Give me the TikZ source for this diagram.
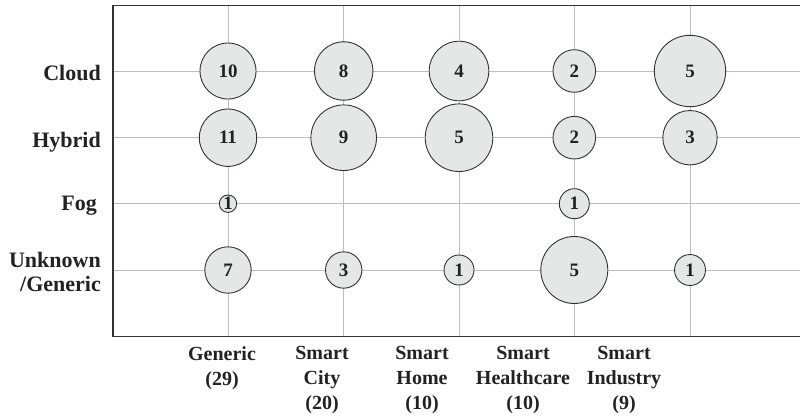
\documentclass[tikz,border=0pt]{standalone}
\usepackage{fontspec}
\setmainfont{Liberation Serif}
\definecolor{bubblefill}{HTML}{E5E6E6}
\definecolor{bubbleline}{HTML}{333333}
\definecolor{gridgray}{HTML}{BDBDBD}
\definecolor{inkdark}{HTML}{222222}
\begin{document}
\begin{tikzpicture}[x=1pt,y=-1pt,
  gridline/.style={draw=gridgray,line width=1pt},
  frameline/.style={draw=bubbleline,line width=1.4pt},
  bubble/.style={circle,draw=bubbleline,fill=bubblefill,line width=0.9pt,
    inner sep=0pt,minimum size=#1,text=inkdark,
    font=\fontsize{19}{21}\selectfont\bfseries},
  rowlabel/.style={anchor=base east,inner sep=0pt,text=inkdark,
    font=\fontsize{22}{23.5}\selectfont\bfseries},
  collabel/.style={anchor=north,inner sep=0pt,align=center,text=inkdark,
    font=\fontsize{20}{25}\selectfont\bfseries}]
\useasboundingbox (0,0) rectangle (800,418);

% grid
\foreach \gx in {228,343.7,459,574.3,690}
  \draw[gridline] (\gx,5.5) -- (\gx,336.5);
\foreach \gy in {71,137.7,203.7,270}
  \draw[gridline] (113,\gy) -- (801,\gy);

% plot frame (open on the right)
\draw[frameline] (801,5.5) -- (113,5.5) -- (113,336.5) -- (801,336.5);

% bubbles: Generic
\node[bubble=56pt]   (g1) at (228,71)    {10};
\node[bubble=57.4pt] (g2) at (228,137.7) {11};
\node[bubble=17.4pt] (g3) at (228,203.7) {1};
\node[bubble=46.4pt] (g4) at (228,270)   {7};
% Smart City
\node[bubble=58.4pt] (c1) at (343.7,71)    {8};
\node[bubble=65.6pt] (c2) at (343.7,137.7) {9};
\node[bubble=36.4pt] (c4) at (343.7,270)   {3};
% Smart Home
\node[bubble=59.6pt] (h1) at (459,71)    {4};
\node[bubble=67.6pt] (h2) at (459,137.7) {5};
\node[bubble=30pt]   (h4) at (459,270)   {1};
% Smart Healthcare
\node[bubble=42.6pt] (m1) at (574.3,71)    {2};
\node[bubble=42.6pt] (m2) at (574.3,137.7) {2};
\node[bubble=30pt]   (m3) at (574.3,203.7) {1};
\node[bubble=67pt]   (m4) at (574.3,270)   {5};
% Smart Industry
\node[bubble=71.4pt] (i1) at (690,71)    {5};
\node[bubble=54.4pt] (i2) at (690,137.7) {3};
\node[bubble=31pt]   (i4) at (690,270)   {1};

% row labels
\node[rowlabel] (rCloud)  at (101,80.7)  {Cloud};
\node[rowlabel] (rHybrid) at (101,147.3) {Hybrid};
\node[rowlabel] (rFog)    at (97,210.7)  {Fog};
\node[anchor=north east,inner sep=0pt,align=right,text=inkdark,
  font=\fontsize{22}{23.5}\selectfont\bfseries] (rUnknown) at (101,252.5) {Unknown\\/Generic};

% column labels
\node[collabel] (lGeneric) at (222,346.5) {Generic\\(29)};
\node[collabel] (lCity)    at (322,346.5) {Smart\\City\\(20)};
\node[collabel] (lHome)    at (422,346.5) {Smart\\Home\\(10)};
\node[collabel] (lHealth)  at (523,346.5) {Smart\\Healthcare\\(10)};
\node[collabel] (lIndust)  at (624,346.5) {Smart\\Industry\\(9)};
\end{tikzpicture}
\end{document}
